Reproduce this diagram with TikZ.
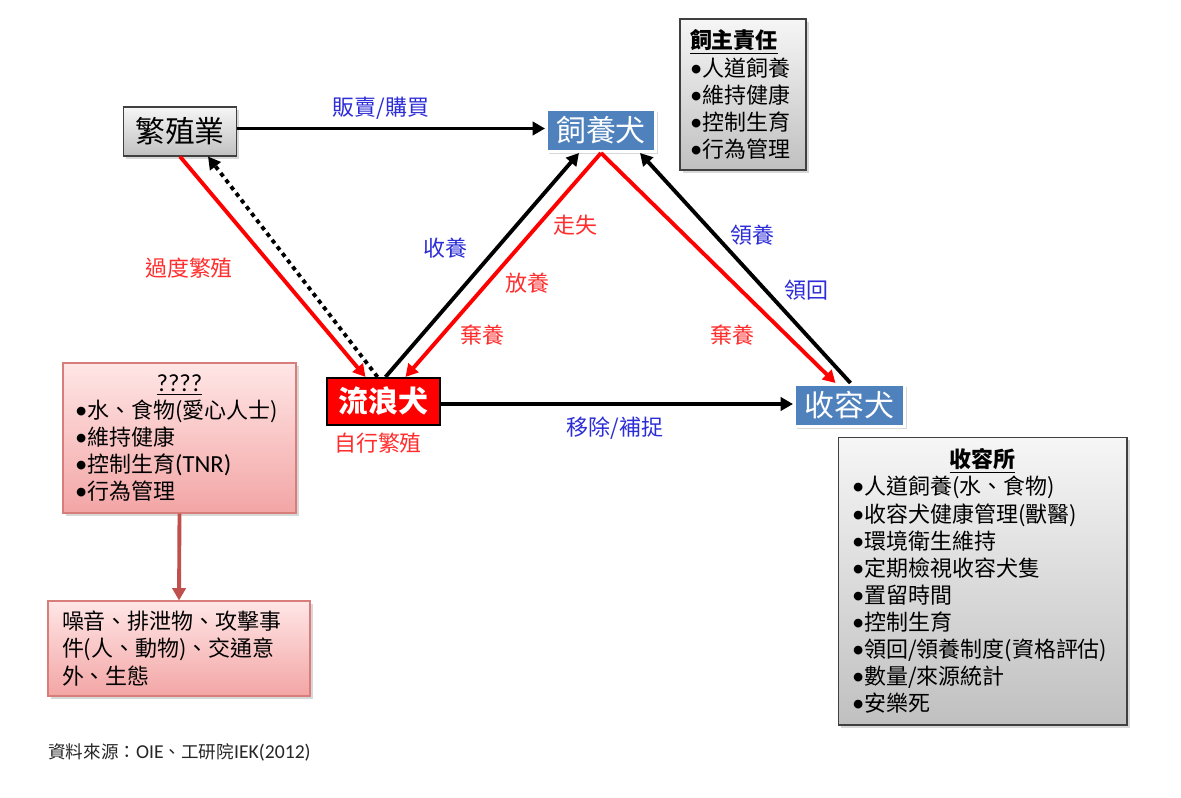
\documentclass[tikz,border=0pt]{standalone}
\usepackage{fontspec}
\setmainfont{Noto Sans CJK TC}
\newfontfamily\lat[Scale=1.12]{Carlito}
\newcommand\bul{{\lat •}}
\usetikzlibrary{arrows.meta,shadows}
\definecolor{boxblue}{RGB}{79,129,189}
\definecolor{lblblue}{RGB}{45,45,215}
\definecolor{lblred}{RGB}{255,45,45}
\definecolor{pinkarrow}{RGB}{192,80,77}
\definecolor{pinktop}{RGB}{255,230,230}
\definecolor{pinkbot}{RGB}{243,165,165}
\definecolor{pinkedge}{RGB}{215,125,122}
\definecolor{graytop}{RGB}{246,246,246}
\definecolor{graybot}{RGB}{192,192,192}
\begin{document}
\begin{tikzpicture}[x=0.02cm,y=-0.02cm,
  shad/.style={drop shadow={shadow xshift=1.5pt,shadow yshift=-1.5pt,opacity=0.3}},
  bigf/.style={font=\fontsize{17}{20}\selectfont},
  boxf/.style={font=\fontsize{12.5}{15.4}\selectfont, align=left},
  lblf/.style={font=\fontsize{12.5}{15}\selectfont, inner sep=1pt},
  lblb/.style={lblf, text=lblblue},
  lblr/.style={lblf, text=lblred},
  graybox/.style={draw=black!75, line width=0.6pt, top color=graytop, bottom color=graybot, shad},
  pinkbox/.style={draw=pinkedge, line width=0.6pt, top color=pinktop, bottom color=pinkbot, shad},
  bluebox/.style={bigf, fill=boxblue, draw=white, line width=1.7pt, text=white, minimum height=0.84cm, shad},
  redbox/.style={bigf, fill=red, draw=black, line width=1.2pt, text=white, font=\fontsize{17}{20}\selectfont\bfseries, minimum width=2.26cm, minimum height=0.94cm},
  arr/.style={line width=2.2pt, -{Triangle[length=7pt,width=7.5pt]}},
  blk/.style={arr, draw=black},
  rd/.style={arr, draw=red},
  dotl/.style={arr, draw=black, dash pattern=on 2.4pt off 2.4pt},
  pinkarr/.style={arr, draw=pinkarrow}
]
\useasboundingbox[fill=white] (0,0) rectangle (1181,798);

% main nodes
\node[graybox, bigf, minimum width=2.26cm, minimum height=0.98cm] (breed) at (180,131.5) {繁殖業};
\node[bluebox, minimum width=2.18cm] (pet) at (601,130.5) {飼養犬};
\node[redbox] (stray) at (383.5,401.5) {流浪犬};
\node[bluebox, minimum width=2.2cm] (shelter) at (849.5,405.5) {收容犬};

% info boxes
\node[graybox, boxf, text width=2.12cm, inner xsep=0.2cm, inner ysep=0pt, minimum height=3.02cm] (owner) at (743,94.5)
  {\underline{\textbf{飼主責任}}\\\bul 人道飼養\\\bul 維持健康\\\bul 控制生育\\\bul 行為管理};
\node[pinkbox, boxf, text width=4.18cm, inner xsep=0.24cm, inner ysep=0pt, minimum height=3.0cm] (care) at (179.5,438)
  {\makebox[4.18cm][c]{\underline{\lat ????}}\\\bul 水、食物(愛心人士)\\\bul 維持健康\\\bul 控制生育{\lat (TNR)}\\\bul 行為管理};
\node[pinkbox, boxf, text width=4.68cm, inner xsep=0.28cm, inner ysep=0pt, minimum height=1.9cm] (effect) at (179,648.5)
  {噪音、排泄物、攻擊事\\件(人、動物)、交通意\\外、生態};
\node[graybox, boxf, text width=5.22cm, inner xsep=0.28cm, inner ysep=0pt, minimum height=5.76cm] (center) at (982.5,581)
  {\makebox[5.22cm][c]{\underline{\textbf{收容所}}}\\\bul 人道飼養(水、食物)\\\bul 收容犬健康管理(獸醫)\\\bul 環境衛生維持\\\bul 定期檢視收容犬隻\\\bul 置留時間\\\bul 控制生育\\\bul 領回/領養制度(資格評估)\\\bul 數量/來源統計\\\bul 安樂死};

% connectors
\draw[blk] ([shift={(0,-3)}]breed.east) -- ([shift={(0,-2)}]pet.west);
\draw[rd] (breed.south) -- ([shift={(-18,0)}]stray.north);
\draw[dotl] ([shift={(-6,0)}]stray.north) -- ([shift={(28,0)}]breed.south);
\draw[blk] ([shift={(2,0)}]stray.north) -- ([shift={(-22,0)}]pet.south);
\draw[rd] (pet.south) -- ([shift={(22,0)}]stray.north);
\draw[rd] (pet.south) -- ([shift={(-14,0)}]shelter.north);
\draw[blk] ([shift={(1,0)}]shelter.north) -- ([shift={(39,0)}]pet.south);
\draw[blk] ([shift={(0,2.5)}]stray.east) -- ([shift={(0,-1.5)}]shelter.west);
\draw[pinkarr] (care.south) -- (effect.north);

% labels
\node[lblb] (l1) at (381,108) {販賣/購買};
\node[lblr] (l2) at (189,268) {過度繁殖};
\node[lblb] (l3) at (445,248) {收養};
\node[lblr] (l4) at (575,225) {走失};
\node[lblr] (l5) at (527,283) {放養};
\node[lblr] (l6) at (482,335) {棄養};
\node[lblr] (l7) at (732,335) {棄養};
\node[lblb] (l8) at (752,235) {領養};
\node[lblb] (l9) at (806,290) {領回};
\node[lblb] (l10) at (615,428) {移除/補捉};
\node[lblr] (l11) at (378,443) {自行繁殖};

% source
\node[anchor=west, inner sep=0pt, font=\fontsize{10}{12}\selectfont, text=black!85] (src) at (48,752)
  {資料來源：{\lat OIE}、工研院{\lat IEK(2012)}};
\end{tikzpicture}
\end{document}
